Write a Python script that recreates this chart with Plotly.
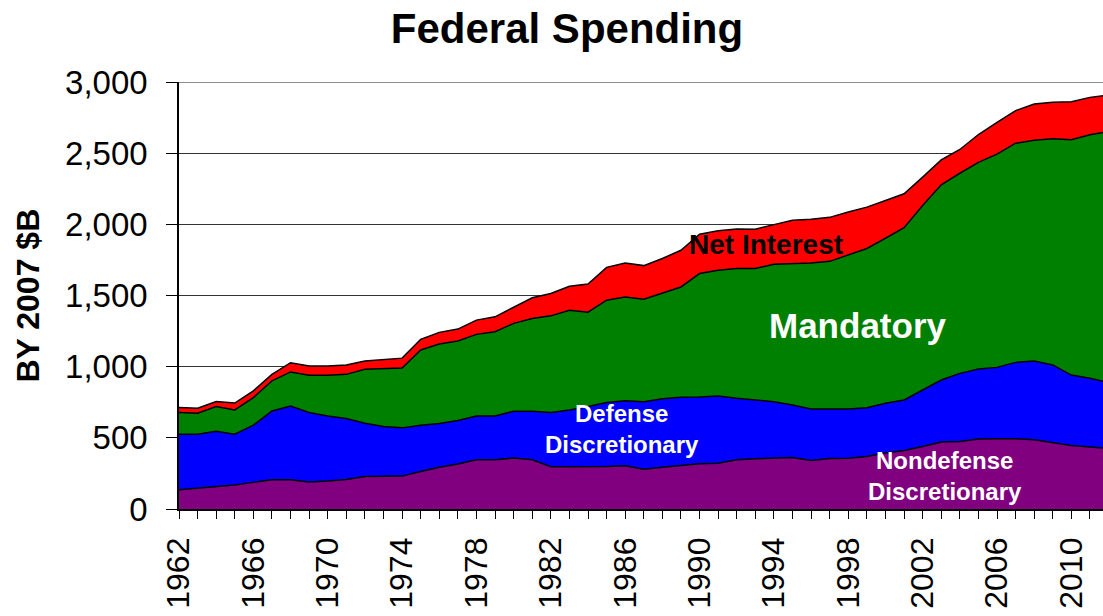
import plotly.graph_objects as go

# Federal spending by category, constant 2007 dollars (billions)
years = list(range(1962, 2013))

nondefense = [136, 147, 157, 168, 187, 206, 206, 189, 196, 208,
              229, 231, 231, 264, 294, 316, 346, 346, 358, 346,
              297, 297, 297, 299, 304, 280, 294, 304, 318, 322,
              346, 353, 357, 362, 341, 355, 357, 369, 393, 411,
              439, 470, 474, 491, 493, 493, 486, 467, 446, 435,
              426]

defense = [390, 379, 390, 358, 402, 483, 518, 489, 458, 428,
           374, 349, 339, 325, 307, 306, 308, 308, 329, 341,
           381, 399, 423, 449, 457, 474, 481, 481, 469, 472,
           432, 413, 397, 369, 362, 348, 346, 343, 350, 355,
           397, 436, 479, 492, 502, 537, 554, 545, 495, 483,
           462]

mandatory = [152, 147, 173, 170, 194, 211, 239, 261, 285, 310,
             379, 408, 420, 528, 558, 558, 573, 591, 617, 652,
             679, 701, 663, 719, 729, 720, 743, 775, 867, 884,
             911, 923, 966, 994, 1026, 1037, 1080, 1118, 1159, 1211,
             1297, 1372, 1406, 1452, 1498, 1540, 1551, 1589, 1653, 1711,
             1764]

net_interest = [35, 35, 35, 48, 47, 46, 65, 66, 66, 66,
                58, 64, 70, 75, 82, 84, 100, 105, 116, 145,
                157, 168, 197, 231, 239, 236, 242, 258, 276, 277,
                279, 277, 278, 303, 306, 309, 303, 291, 266, 238,
                199, 175, 167, 196, 224, 229, 255, 256, 268, 263,
                257]

label_years = list(range(1962, 2012, 4))
y_ticks = [0, 500, 1000, 1500, 2000, 2500, 3000]

FONT = "Liberation Sans, Arial, sans-serif"

series = [
    ("Nondefense Discretionary", nondefense, "#800080"),
    ("Defense Discretionary", defense, "#0000FF"),
    ("Mandatory", mandatory, "#008000"),
    ("Net Interest", net_interest, "#FF0000"),
]

fig = go.Figure()
for name, vals, color in series:
    fig.add_trace(go.Scatter(
        x=years, y=vals, name=name,
        stackgroup="spend", mode="lines",
        line=dict(color="black", width=1.5),
        fillcolor=color,
        hoverinfo="x+y+name",
    ))

fig.update_layout(
    width=1103, height=616,
    margin=dict(l=179, r=0, t=82, b=107),
    paper_bgcolor="white", plot_bgcolor="white",
    showlegend=False,
    font=dict(family=FONT, color="black"),
    title=dict(
        text="<b>Federal Spending</b>",
        font=dict(size=42, family=FONT, color="black"),
        x=567 / 1103, xref="container", xanchor="center",
        y=1 - 28 / 616, yref="container", yanchor="middle",
    ),
    xaxis=dict(
        range=[1962, 2011.7],
        tickmode="array", tickvals=label_years,
        ticktext=[str(y) for y in label_years],
        tickangle=-90,
        tickfont=dict(size=32, family=FONT, color="black"),
        ticks="outside", ticklen=8, tickwidth=1, tickcolor="black",
        minor=dict(ticks="outside", dtick=1, tick0=1962, ticklen=8,
                   tickwidth=1, tickcolor="black", showgrid=False),
        ticklabelstandoff=6,
        showline=True, linecolor="black", linewidth=1.5,
        showgrid=False, zeroline=False,
    ),
    yaxis=dict(
        range=[0, 3000],
        tickmode="array", tickvals=y_ticks,
        tickformat=",",
        tickfont=dict(size=33, family=FONT, color="black"),
        ticks="outside", ticklen=11, tickwidth=1, tickcolor="black",
        ticklabelstandoff=12,
        showline=True, linecolor="black", linewidth=1.5,
        showgrid=True, gridcolor="#333333", gridwidth=1.2,
        zeroline=False,
    ),
)

# lighter frame line along the top of the plot area
fig.add_shape(type="line", xref="paper", yref="y", x0=0, x1=1, y0=3000, y1=3000,
              line=dict(color="#8c8c8c", width=2), layer="above")

# axis title
fig.add_annotation(
    text="<b>BY 2007 $B</b>", textangle=-90,
    xref="paper", yref="paper", x=(27 - 179) / 924, y=0.5,
    xanchor="center", yanchor="middle", showarrow=False,
    font=dict(size=32, family=FONT, color="black"),
)

# series labels inside the areas
labels = [
    ("<b>Net Interest</b>", 1993.6, 1860, 28, "black"),
    ("<b>Mandatory</b>", 1998.5, 1286, 35, "white"),
    ("<b>Defense<br>Discretionary</b>", 1985.85, 559, 24, "white"),
    ("<b>Nondefense<br>Discretionary</b>", 2003.2, 233, 24, "white"),
]
for text, lx, ly, size, color in labels:
    fig.add_annotation(
        text=text, x=lx, y=ly, xref="x", yref="y",
        showarrow=False, xanchor="center", yanchor="middle",
        font=dict(size=size, family=FONT, color=color),
    )

fig.write_html("out.html")
